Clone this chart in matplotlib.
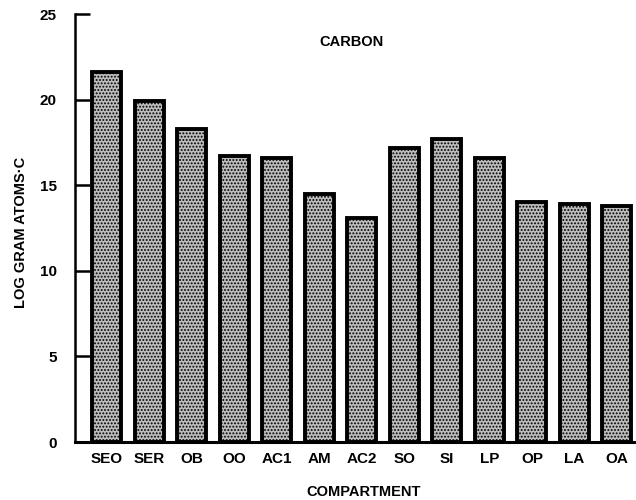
import matplotlib
matplotlib.use("Agg")
import matplotlib.pyplot as plt

categories = ["SEO", "SER", "OB", "OO", "AC1", "AM", "AC2", "SO", "SI", "LP", "OP", "LA", "OA"]
values = [21.6, 19.9, 18.3, 16.7, 16.6, 14.5, 13.1, 17.2, 17.7, 16.6, 14.0, 13.9, 13.8]
yticks = [0, 5, 10, 15, 20, 25]

plt.rcParams['font.family'] = ['Liberation Sans', 'DejaVu Sans']
plt.rcParams['font.weight'] = 'bold'
plt.rcParams['hatch.linewidth'] = 0.9

fig = plt.figure(figsize=(6.36, 5.0), dpi=100)
ax = fig.add_axes([75/636, 58/500, 1 - 75/636, 428/500])

x = list(range(len(categories)))
ax.bar(x, values, width=0.68, facecolor='#bcbcbc', edgecolor='black',
       linewidth=2.8, hatch='.....', zorder=2)

ax.set_xlim(-0.75, 12.45)
ax.set_ylim(0, 25)
ax.set_yticks(yticks)
ax.set_yticklabels([str(t) for t in yticks])
ax.set_xticks(x)
ax.set_xticklabels(categories)

for s in ['top', 'right']:
    ax.spines[s].set_visible(False)
ax.spines['left'].set_linewidth(1.8)
ax.spines['bottom'].set_linewidth(2.2)
ax.spines['left'].set_zorder(3)
ax.spines['bottom'].set_zorder(3)

ax.tick_params(axis='y', direction='in', length=11, width=1.8, pad=13,
               labelsize=11)
ax.tick_params(axis='x', length=0, pad=7, labelsize=11)

ax.set_xlabel("COMPARTMENT", fontsize=10.5, fontweight='bold')
ax.xaxis.set_label_coords((364 - 75) / 561, (442 - 492) / 428)
ax.xaxis.label.set_va('center')

ax.set_ylabel("LOG GRAM ATOMS\u00b7C", fontsize=10.5, fontweight='bold')
ax.yaxis.set_label_coords((21 - 75) / 561, (442 - 232) / 428)
ax.yaxis.label.set_va('center')

ax.text((352 - 75) / 561, (442 - 42) / 428, "CARBON", transform=ax.transAxes,
        ha='center', va='center', fontsize=10.5, fontweight='bold')

fig.savefig("out.png", dpi=100)
